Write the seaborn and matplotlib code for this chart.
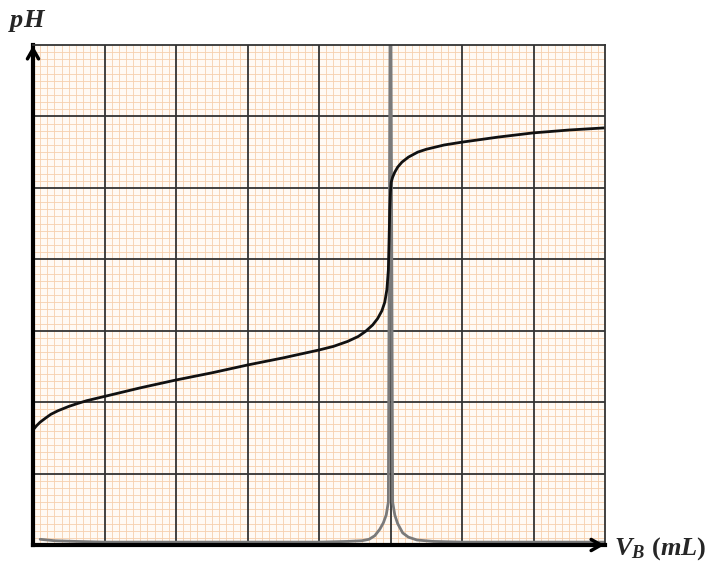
import numpy as np
import matplotlib
matplotlib.use("Agg")
import matplotlib.pyplot as plt
import seaborn as sns

# Titration curve (grid units: 1 major square = 1)
vb_ph = [0.0, 0.05, 0.1, 0.18, 0.25, 0.35, 0.5, 0.62, 0.75, 1.0, 1.25, 1.5, 2.0, 2.5, 3.0,
         3.5, 4.0, 4.2, 4.4, 4.55, 4.65, 4.75, 4.82, 4.88, 4.92, 4.95, 4.97, 4.98, 4.99,
         5.0, 5.01, 5.03, 5.06, 5.1, 5.16, 5.25, 5.38, 5.5, 5.75, 6.0, 6.5, 7.0, 7.5, 8.0]
ph = [1.61, 1.67, 1.72, 1.78, 1.83, 1.88, 1.94, 1.98, 2.02, 2.08, 2.14, 2.20, 2.31, 2.41, 2.52,
      2.62, 2.73, 2.78, 2.85, 2.92, 2.99, 3.08, 3.17, 3.28, 3.40, 3.58, 3.85, 4.25, 4.70,
      4.95, 5.08, 5.15, 5.22, 5.29, 5.36, 5.43, 5.50, 5.54, 5.60, 5.64, 5.71, 5.77, 5.81, 5.84]

# Derivative curve dpH/dV (same grid units)
vb_deriv = [0.1, 0.3, 0.6, 1.0, 2.0, 3.0, 4.0, 4.4, 4.6, 4.7, 4.78, 4.85, 4.9, 4.94, 4.97,
            5.0, 5.03, 5.06, 5.1, 5.17, 5.25, 5.37, 5.6, 6.0, 7.0, 8.0]
deriv = [0.08, 0.06, 0.05, 0.04, 0.04, 0.04, 0.04, 0.05, 0.06, 0.08, 0.13, 0.22, 0.31, 0.42, 0.60,
         9.0, 0.60, 0.42, 0.30, 0.17, 0.11, 0.07, 0.05, 0.04, 0.04, 0.04]

sns.set_style("white")
plt.rcParams['mathtext.fontset'] = 'custom'
plt.rcParams['mathtext.rm'] = 'Liberation Serif:bold'
plt.rcParams['mathtext.it'] = 'Liberation Serif:italic:bold'
plt.rcParams['mathtext.bf'] = 'Liberation Serif:bold'

fig = plt.figure(figsize=(7.25, 5.68), dpi=100)
ax = fig.add_axes([33 / 725, 1 - 545 / 568, 572 / 725, 500 / 568])
ax.set_facecolor('#fffaf4')

ax.set_xlim(0, 8)
ax.set_ylim(0, 7)

# graph paper: 10 small squares per big one
minor_x = [v / 10 for v in range(81) if v % 10]
minor_y = [v / 10 for v in range(71) if v % 10]
ax.set_xticks(minor_x, minor=True)
ax.set_yticks(minor_y, minor=True)
ax.set_xticks([])
ax.set_yticks([])
ax.grid(which='minor', color='#f6d0ad', linewidth=0.6)
ax.tick_params(which='both', length=0, labelbottom=False, labelleft=False)
ax.set_axisbelow(True)
# big squares drawn on top of the small ones
ax.vlines(range(1, 8), 0, 7, color='#333333', linewidth=1.3, zorder=1.5)
ax.hlines(range(1, 7), 0, 8, color='#333333', linewidth=1.3, zorder=1.5)

for s in ['top', 'right']:
    ax.spines[s].set_color('#333333')
    ax.spines[s].set_linewidth(1.3)
for s in ['left', 'bottom']:
    ax.spines[s].set_color('black')
    ax.spines[s].set_linewidth(3)

sns.lineplot(x=vb_deriv, y=deriv, sort=False, color='#7a7a7a', linewidth=2, ax=ax)
sns.lineplot(x=vb_ph, y=ph, sort=False, color='#111111', linewidth=2, ax=ax)

# axis arrows
arrow = dict(arrowstyle='->,head_length=0.7,head_width=0.4', color='black', lw=2.5)
ax.annotate('', xy=(0, 7.03), xytext=(0, 6.5), arrowprops=arrow, annotation_clip=False)
ax.annotate('', xy=(8.03, 0), xytext=(7.5, 0), arrowprops=arrow, annotation_clip=False)

fig.text(8 / 725, 1 - 21 / 568, r'$pH$', fontsize=19, va='center', ha='left')
fig.text(614 / 725, 1 - 549 / 568, r'$V_B\ (mL)$', fontsize=19, va='center', ha='left')

fig.savefig('out.png', dpi=100)
